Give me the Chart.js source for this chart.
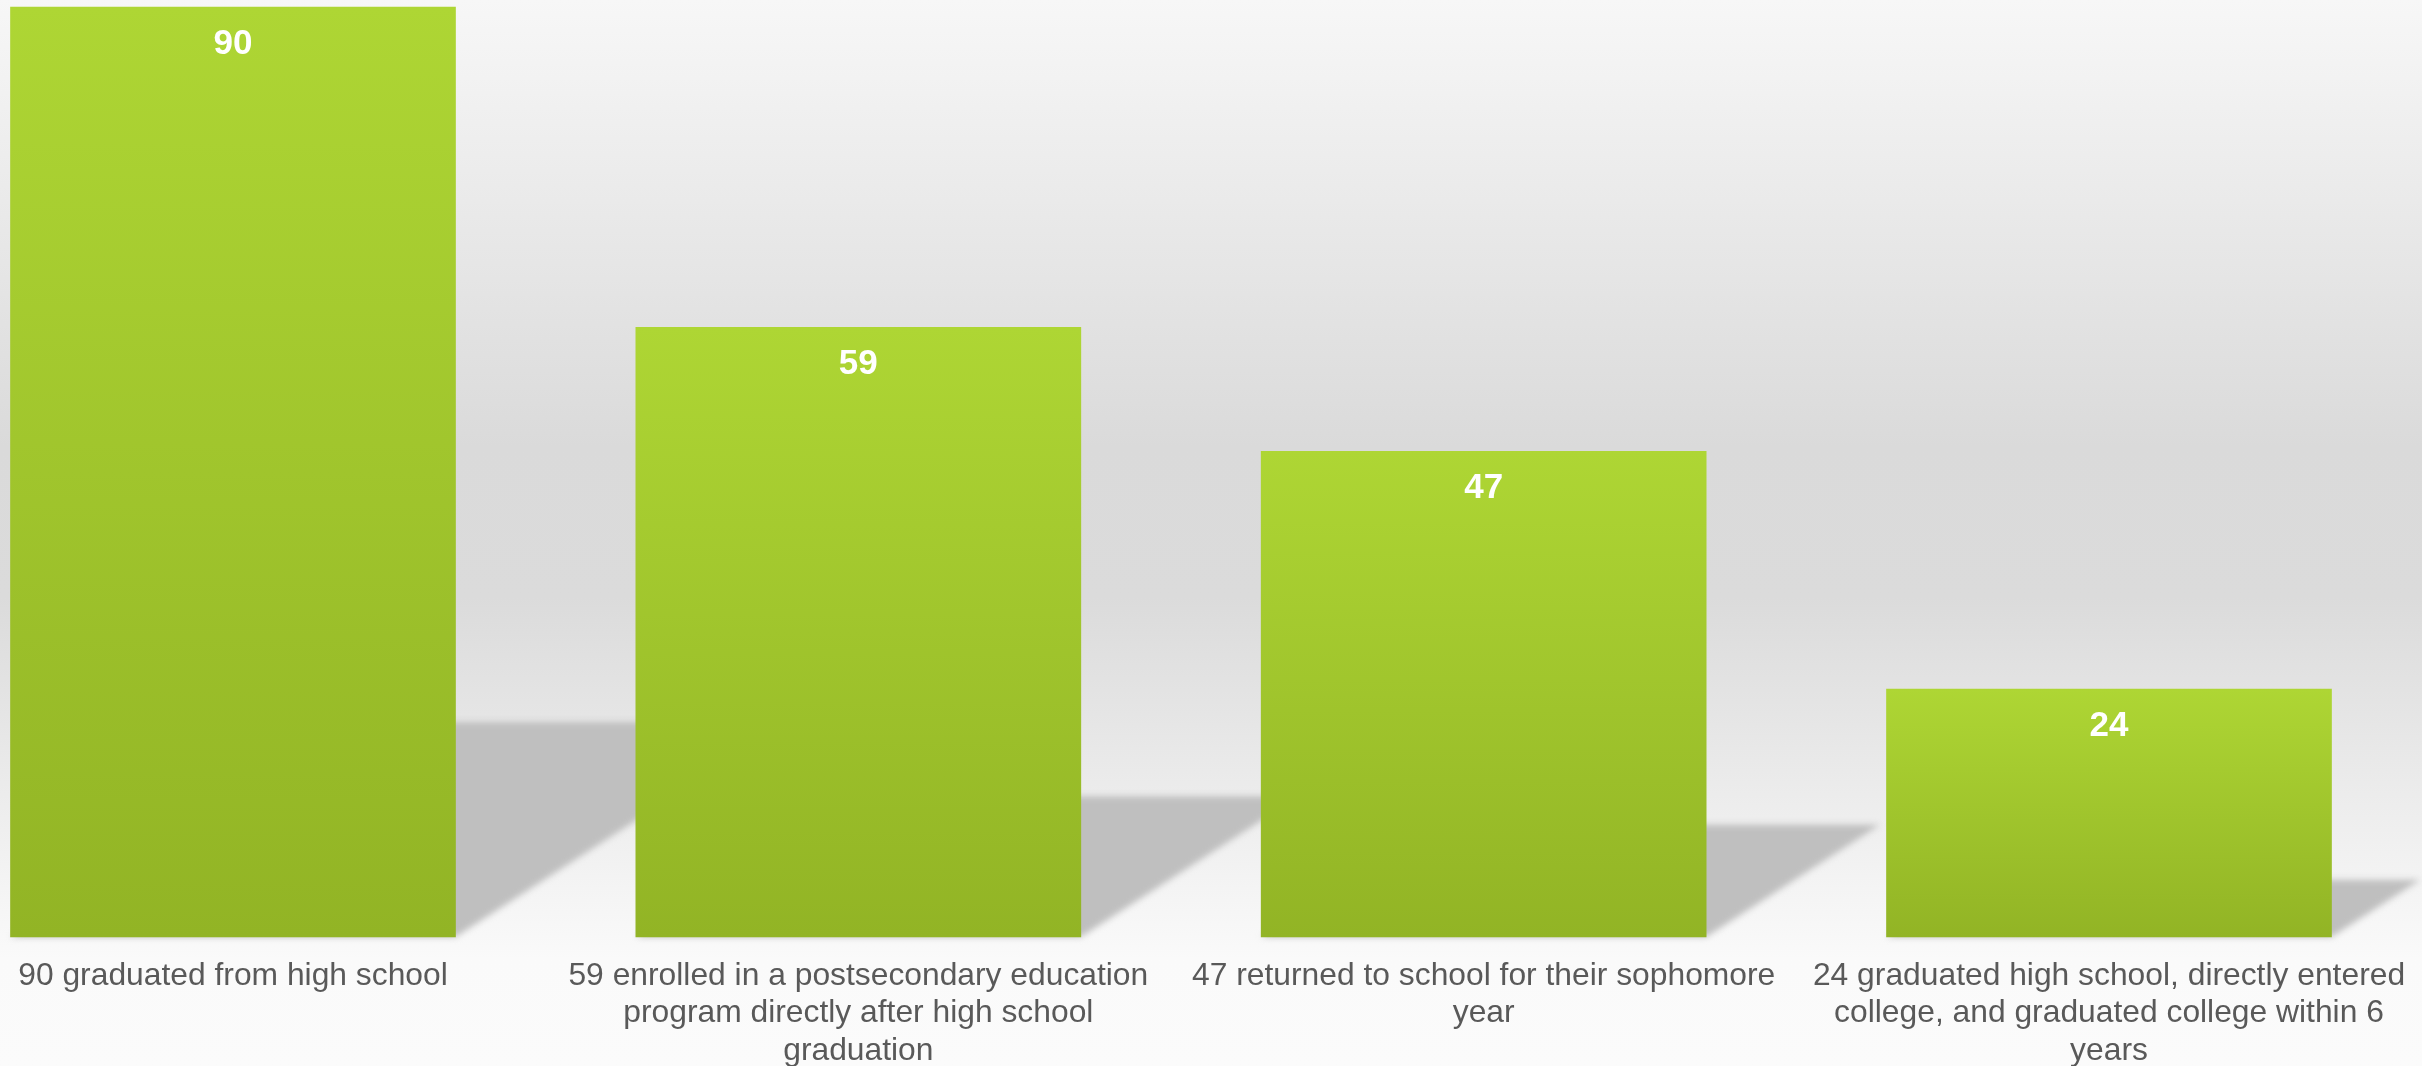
<!DOCTYPE html>
<html>
<head>
<meta charset="utf-8">
<script src="https://cdn.jsdelivr.net/npm/chart.js@4.4.1/dist/chart.umd.min.js"></script>
<style>
  html, body { margin: 0; padding: 0; background: #fafafa; }
  #wrap { width: 2422px; height: 1066px; position: relative; }
</style>
</head>
<body>
<div id="wrap"><canvas id="c"></canvas></div>
<script>
const categories = [
  ["90 graduated from high school"],
  ["59 enrolled in a postsecondary education", "program directly after high school", "graduation"],
  ["47 returned to school for their sophomore", "year"],
  ["24 graduated high school, directly entered", "college, and graduated college within 6", "years"]
];
const values = [90, 59, 47, 24];
const valueLabels = ["90", "59", "47", "24"];

const bgPlugin = {
  id: 'bg',
  beforeDraw(chart) {
    const ctx = chart.ctx;
    const h = chart.height;
    const g = ctx.createLinearGradient(0, 0, 0, h);
    g.addColorStop(0, '#f7f7f7');
    g.addColorStop(0.42, '#dadada');
    g.addColorStop(0.56, '#dbdbdb');
    g.addColorStop(0.8, '#f1f1f1');
    g.addColorStop(0.9, '#fafafa');
    g.addColorStop(1, '#fbfbfb');
    ctx.save();
    ctx.fillStyle = g;
    ctx.fillRect(0, 0, chart.width, h);
    ctx.restore();
  }
};

const shadowPlugin = {
  id: 'shadows',
  beforeDatasetsDraw(chart) {
    const ctx = chart.ctx;
    const meta = chart.getDatasetMeta(0);
    ctx.save();
    ctx.filter = 'blur(3px)';
    ctx.fillStyle = '#bfbfbf';
    meta.data.forEach(bar => {
      const p = bar.getProps(['x', 'y', 'base', 'width'], true);
      const left = p.x - p.width / 2, right = p.x + p.width / 2;
      const hgt = p.base - p.y;
      const sh = hgt * 0.231;
      const dx = sh / 0.646;
      ctx.beginPath();
      ctx.moveTo(left, p.base);
      ctx.lineTo(right, p.base);
      ctx.lineTo(right + dx, p.base - sh);
      ctx.lineTo(left + dx, p.base - sh);
      ctx.closePath();
      ctx.fill();
    });
    ctx.restore();
  }
};

const labelPlugin = {
  id: 'vlabels',
  afterDatasetsDraw(chart) {
    const ctx = chart.ctx;
    const meta = chart.getDatasetMeta(0);
    ctx.save();
    ctx.font = 'bold 35px "Liberation Sans", Arial, sans-serif';
    ctx.fillStyle = '#ffffff';
    ctx.textAlign = 'center';
    ctx.textBaseline = 'middle';
    meta.data.forEach((bar, i) => {
      const p = bar.getProps(['x', 'y'], true);
      ctx.fillText(valueLabels[i], p.x, p.y + 37);
    });
    ctx.restore();
  }
};

function barGradient(context) {
  const chart = context.chart;
  if (!chart.chartArea || !chart.scales.y) return '#a0c42c';
  const v = context.raw;
  const top = chart.scales.y.getPixelForValue(v);
  const bottom = chart.scales.y.getPixelForValue(0);
  if (!isFinite(top) || !isFinite(bottom) || top === bottom) return '#a0c42c';
  const g = chart.ctx.createLinearGradient(0, top, 0, bottom);
  g.addColorStop(0, '#aed634');
  g.addColorStop(1, '#92b425');
  return g;
}

new Chart(document.getElementById('c'), {
  type: 'bar',
  data: {
    labels: categories,
    datasets: [{
      data: values,
      backgroundColor: barGradient,
      borderWidth: 0,
      barThickness: 445,
      clip: false
    }]
  },
  options: {
    responsive: true,
    maintainAspectRatio: false,
    animation: false,
    layout: { padding: { left: 233, right: 313, top: 7, bottom: 0 } },
    plugins: {
      legend: { display: false },
      tooltip: { enabled: false }
    },
    scales: {
      x: {
        offset: false,
        grid: { display: false, drawTicks: false },
        border: { display: false },
        ticks: {
          autoSkip: false,
          maxRotation: 0,
          minRotation: 0,
          padding: 20,
          color: '#595959',
          font: { family: '"Liberation Sans", Arial, sans-serif', size: 31.8, lineHeight: 1.18 }
        },
        afterFit(scale) {
          scale.height = 129;
          scale.paddingLeft = 0;
          scale.paddingRight = 0;
        }
      },
      y: {
        display: false,
        min: 0,
        max: 90
      }
    }
  },
  plugins: [bgPlugin, shadowPlugin, labelPlugin]
});
</script>
</body>
</html>
